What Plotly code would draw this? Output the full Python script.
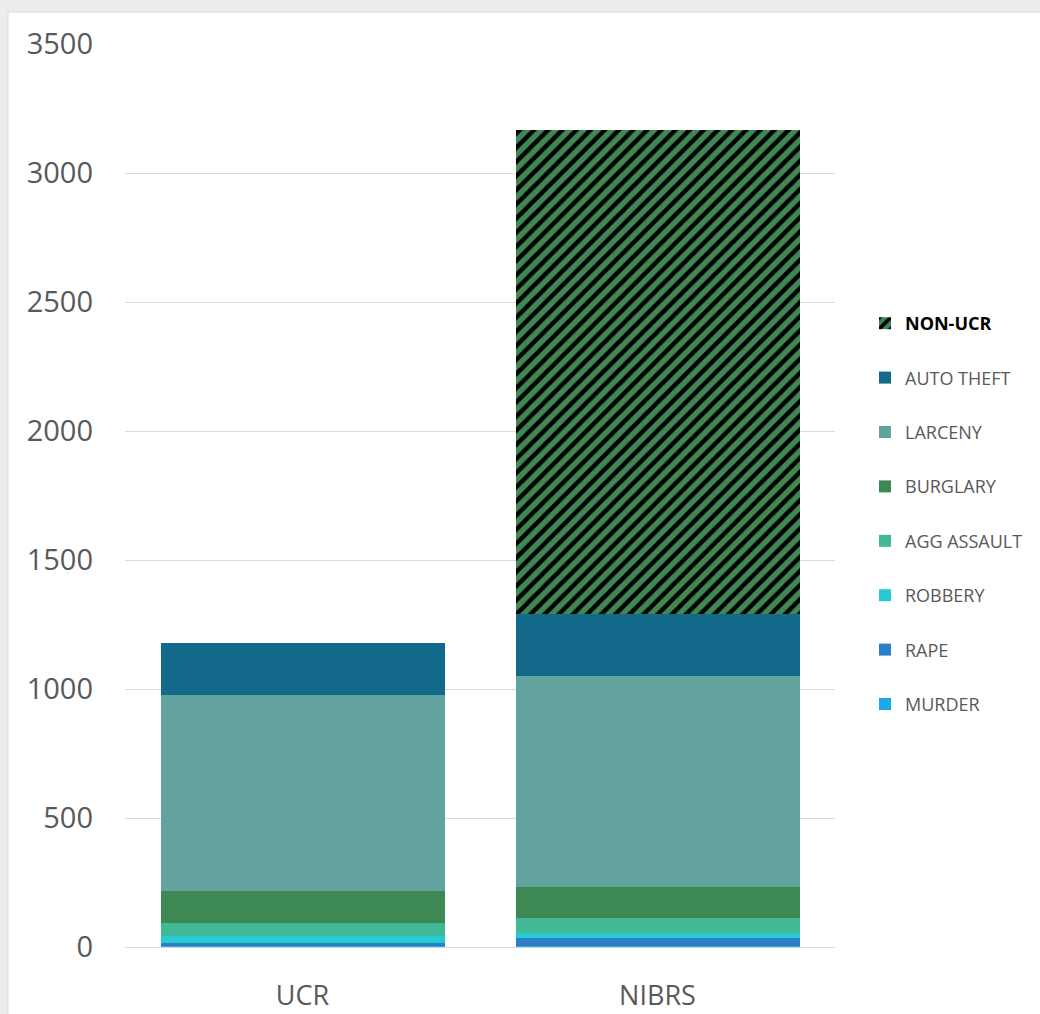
import plotly.graph_objects as go

categories = ["UCR", "NIBRS"]
murder = [3, 3]
rape = [11, 31]
robbery = [28, 21]
agg_assault = [50, 56]
burglary = [125, 120]
larceny = [760, 819]
auto_theft = [203, 241]
non_ucr = [0, 1876]

series = [
    ("MURDER", murder, "#1ca9e6"),
    ("RAPE", rape, "#2a7fc8"),
    ("ROBBERY", robbery, "#26cad3"),
    ("AGG ASSAULT", agg_assault, "#41b996"),
    ("BURGLARY", burglary, "#3e8853"),
    ("LARCENY", larceny, "#62a39f"),
    ("AUTO THEFT", auto_theft, "#12698a"),
]

fig = go.Figure()
for i, (name, vals, col) in enumerate(series):
    fig.add_trace(go.Bar(x=categories, y=vals, name=name, legendgroup=name,
                         legendrank=100 - i,
                         marker=dict(color=col, line=dict(width=0))))
fig.add_trace(go.Bar(
    x=categories, y=non_ucr,
    name="<span style='color:#000000'><b>NON-UCR</b></span>",
    legendgroup="NON-UCR", legendrank=1,
    marker=dict(color="#3e8853", line=dict(width=0),
                pattern=dict(shape="/", fgcolor="#000000", bgcolor="#3e8853",
                             fgopacity=1, size=10, solidity=0.45,
                             fillmode="replace"))))

L, R, T, B = 125, 835, 44, 947
W = R - L
H = B - T

fig.update_layout(
    width=1040, height=1014,
    margin=dict(l=L, r=1040 - R, t=T, b=1014 - B, pad=0, autoexpand=False),
    barmode="stack",
    bargap=0.2,
    paper_bgcolor="#ececec",
    plot_bgcolor="rgba(0,0,0,0)",
    font=dict(family="Open Sans, Lato, sans-serif", color="#595959"),
    legend=dict(x=(865 - L) / W, y=(947 - 305) / H, xanchor="left", yanchor="top",
                traceorder="grouped", tracegroupgap=28,
                font=dict(size=18, color="#595959"), bgcolor="rgba(0,0,0,0)"),
    shapes=[dict(type="rect", xref="paper", yref="paper", layer="below",
                 x0=(8 - L) / W, x1=(1060 - L) / W,
                 y0=(B - 1030) / H, y1=(B - 12) / H,
                 fillcolor="#ffffff", line=dict(color="#d9d9d9", width=1))],
)
fig.update_yaxes(range=[0, 3500], dtick=500, showgrid=True, gridcolor="#d9d9d9",
                 gridwidth=1, zeroline=False, showline=False, automargin=False,
                 tickfont=dict(size=29, color="#595959"), ticklabelstandoff=31)
fig.update_xaxes(showline=True, linecolor="#d9d9d9", linewidth=1, automargin=False,
                 tickfont=dict(size=27, color="#595959"), ticklabelstandoff=25)

fig.write_html("out.html")
